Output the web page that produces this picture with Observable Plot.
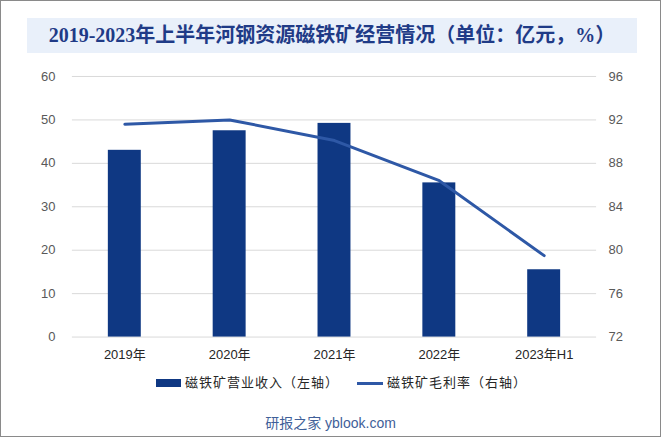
<!DOCTYPE html>
<html>
<head>
<meta charset="utf-8">
<script src="https://cdn.jsdelivr.net/npm/d3@7"></script>
<script src="https://cdn.jsdelivr.net/npm/@observablehq/plot@0.6"></script>
<style>
  html, body { margin: 0; padding: 0; background: #fff; }
  #wrap { position: relative; width: 661px; height: 437px; box-sizing: border-box; border: 1px solid #8a8a8a; overflow: hidden; background: #fff; font-family: "Liberation Sans", Arial, "Noto Sans CJK SC", sans-serif; }
  #title { position: absolute; left: 26px; top: 17px; width: 610px; height: 35px; background: #e9f0fa; color: #1f3b87; font-family: "Liberation Serif", "Times New Roman", "Noto Sans CJK SC", serif; font-weight: bold; font-size: 20px; line-height: 35px; text-align: center; white-space: nowrap; }
  #chart { position: absolute; left: -1px; top: 58px; }
  #legend { position: absolute; left: 0; top: 372px; width: 659px; height: 20px; font-size: 13px; color: #262626; font-family: "Liberation Sans", "Noto Sans CJK SC", sans-serif; }
  .item { position: absolute; top: 0; line-height: 20px; white-space: nowrap; letter-spacing: 1px; }
  .sw { position: absolute; }
  #footer { position: absolute; left: 0; top: 411px; width: 659px; text-align: center; font-size: 14px; color: #3f5f99; font-family: "Liberation Sans", "Noto Sans CJK SC", sans-serif; }
</style>
</head>
<body>
<div id="wrap">
  <div id="title"></div>
  <div id="chart"></div>
  <div id="legend"></div>
  <div id="footer"></div>
</div>
<script>
const titleText = "2019-2023年上半年河钢资源磁铁矿经营情况（单位：亿元，%）";
const years = ["2019年", "2020年", "2021年", "2022年", "2023年H1"];
const revenue = [43.0, 47.5, 49.2, 35.5, 15.5];
const grossMargin = [91.6, 92.0, 90.1, 86.4, 79.5];
const leftTicks = [0, 10, 20, 30, 40, 50, 60];
const rightTicks = [72, 76, 80, 84, 88, 92, 96];
const seriesNames = ["磁铁矿营业收入（左轴）", "磁铁矿毛利率（右轴）"];
const footerText = "研报之家 yblook.com";

const barColor = "#0f3883";
const lineColor = "#2e58a6";
const rMin = 72, rMax = 96, lMax = 60;
const toLeft = v => (v - rMin) * lMax / (rMax - rMin);
const toRight = v => Math.round(v * (rMax - rMin) / lMax + rMin);

const data = years.map((y, i) => ({year: y, rev: revenue[i], gm: grossMargin[i]}));

document.getElementById("title").textContent = titleText;
document.getElementById("footer").textContent = footerText;

const chart = Plot.plot({
  width: 661,
  height: 308,
  marginLeft: 72,
  marginRight: 64,
  marginTop: 17,
  marginBottom: 30,
  style: {fontFamily: "'Liberation Sans', Arial, 'Noto Sans CJK SC', sans-serif", fontSize: "13px", background: "transparent", color: "#595959"},
  x: {domain: years, paddingInner: 0.686, paddingOuter: 0.343, label: null},
  y: {domain: [0, lMax], label: null},
  marks: [
    Plot.gridY(leftTicks, {stroke: "#d9d9d9", strokeOpacity: 1, strokeWidth: 1}),
    Plot.barY(data, {x: "year", y: "rev", fill: barColor}),
    Plot.line(data, {x: "year", y: d => toLeft(d.gm), stroke: lineColor, strokeWidth: 3, strokeLinejoin: "round"}),
    Plot.axisY(leftTicks, {anchor: "left", tickSize: 0, tickPadding: 17, color: "#595959", label: null}),
    Plot.axisY(rightTicks.map(toLeft), {anchor: "right", tickSize: 0, tickPadding: 12, color: "#595959", tickFormat: toRight, label: null}),
    Plot.axisX({tickSize: 0, tickPadding: 13, color: "#262626", label: null})
  ]
});
document.getElementById("chart").appendChild(chart);

const legend = document.getElementById("legend");
const items = [
  {x: 155, sw: {w: 25, h: 8, color: barColor}, tx: 184, text: seriesNames[0]},
  {x: 356, sw: {w: 26, h: 3, color: lineColor}, tx: 386, text: seriesNames[1]}
];
items.forEach(it => {
  const s = document.createElement("div");
  s.className = "sw";
  s.style.left = it.x + "px";
  s.style.top = (10 - it.sw.h / 2) + "px";
  s.style.width = it.sw.w + "px";
  s.style.height = it.sw.h + "px";
  s.style.background = it.sw.color;
  legend.appendChild(s);
  const t = document.createElement("div");
  t.className = "item";
  t.style.left = it.tx + "px";
  t.textContent = it.text;
  legend.appendChild(t);
});
</script>
</body>
</html>
